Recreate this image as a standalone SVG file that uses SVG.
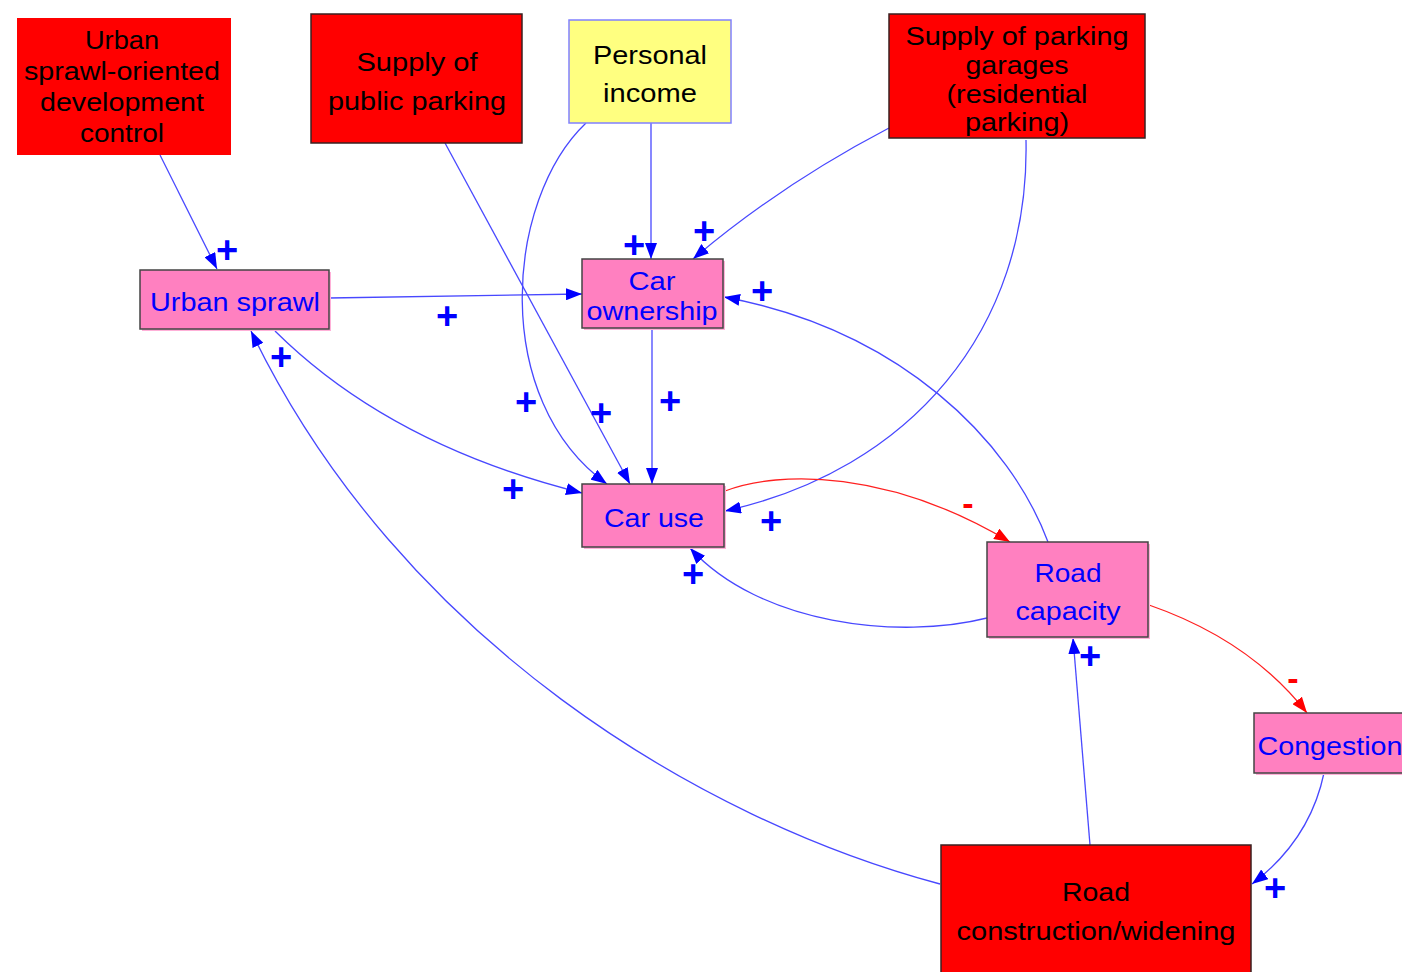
<svg xmlns="http://www.w3.org/2000/svg" width="1402" height="972" viewBox="0 0 1402 972">
  <style>
    .lbl { font-family: "Liberation Sans", Arial, sans-serif; font-size: 26px; text-anchor: middle; }
    .dark { fill: #000000; }
    .blue { fill: #0000ff; }
    .policy { fill: #ff0000; stroke: #3a2020; stroke-width: 1.5; }
    .policy-nb { fill: #ff0000; }
    .var { fill: #ff80c0; stroke: #444444; stroke-width: 1.5; }
    .shadow { fill: #ffb0d8; }
    .exo { fill: #ffff80; stroke: #8080ff; stroke-width: 1.5; }
    .link { fill: none; stroke: #4848ff; stroke-width: 1.3; marker-end: url(#arrowBlue); }
    .neg { fill: none; stroke: #ff2020; stroke-width: 1.3; marker-end: url(#arrowRed); }
    .plus { font-family: "Liberation Sans", Arial, sans-serif; font-size: 38px; font-weight: bold; fill: #0000ff; text-anchor: middle; }
    .minus { font-family: "Liberation Sans", Arial, sans-serif; font-size: 34px; font-weight: bold; fill: #ff0000; text-anchor: middle; }
  </style>
  <defs>
    <marker id="arrowBlue" viewBox="0 0 16 12" refX="16" refY="6" markerWidth="16" markerHeight="12" markerUnits="userSpaceOnUse" orient="auto">
      <path d="M0,0 L16,6 L0,12 Z" fill="#0000ff"/>
    </marker>
    <marker id="arrowRed" viewBox="0 0 16 12" refX="16" refY="6" markerWidth="16" markerHeight="12" markerUnits="userSpaceOnUse" orient="auto">
      <path d="M0,0 L16,6 L0,12 Z" fill="#ff0000"/>
    </marker>
  </defs>
  <rect width="1402" height="972" fill="#ffffff"/>

  <!-- causal links -->
  <g id="connectors">
    <path class="link" d="M160,155 L217,269"/>
    <path class="link" d="M445,143 L630,484"/>
    <path class="link" d="M586,123 C505,200 490,400 607,484"/>
    <path class="link" d="M651,123 L651,259"/>
    <path class="link" d="M889,128 Q780,185 693,259"/>
    <path class="link" d="M1026,140 C1030,330 910,470 725,511"/>
    <path class="link" d="M329,298 L582,294"/>
    <path class="link" d="M275,331 Q390,445 582,493"/>
    <path class="link" d="M652,328 L652,484"/>
    <path class="neg" d="M725,491 C780,470 890,470 1010,542"/>
    <path class="link" d="M1048,542 C1010,440 900,330 724,297"/>
    <path class="link" d="M987,618 C900,640 760,625 690,548"/>
    <path class="neg" d="M1149,605 Q1250,640 1307,713"/>
    <path class="link" d="M1324,773 Q1310,840 1252,884"/>
    <path class="link" d="M1090,845 L1073,638"/>
    <path class="link" d="M940,884 C700,820 400,640 251,331"/>
  </g>

  <!-- polarity labels -->
  <g id="polarities">
    <text class="plus" x="227" y="263">+</text>
    <text class="plus" x="447" y="329">+</text>
    <text class="plus" x="281" y="370">+</text>
    <text class="plus" x="526" y="415">+</text>
    <text class="plus" x="601" y="426">+</text>
    <text class="plus" x="513" y="502">+</text>
    <text class="plus" x="634" y="258">+</text>
    <text class="plus" x="704" y="244">+</text>
    <text class="plus" x="670" y="414">+</text>
    <text class="plus" x="762" y="304">+</text>
    <text class="plus" x="771" y="534">+</text>
    <text class="plus" x="693" y="587">+</text>
    <text class="plus" x="1090" y="669">+</text>
    <text class="plus" x="1275" y="901">+</text>
    <text class="minus" x="968" y="515">-</text>
    <text class="minus" x="1293" y="690">-</text>
  </g>

  <!-- nodes -->
  <g id="node-sprawl-control">
    <rect class="policy-nb" x="17" y="18" width="214" height="137"/>
    <text class="lbl dark" x="122" y="49" textLength="74" lengthAdjust="spacingAndGlyphs">Urban</text>
    <text class="lbl dark" x="122" y="80" textLength="196" lengthAdjust="spacingAndGlyphs">sprawl-oriented</text>
    <text class="lbl dark" x="122" y="111" textLength="164" lengthAdjust="spacingAndGlyphs">development</text>
    <text class="lbl dark" x="122" y="142" textLength="84" lengthAdjust="spacingAndGlyphs">control</text>
  </g>
  <g id="node-public-parking">
    <rect class="policy" x="311" y="14" width="211" height="129"/>
    <text class="lbl dark" x="417" y="71" textLength="121" lengthAdjust="spacingAndGlyphs">Supply of</text>
    <text class="lbl dark" x="417" y="110" textLength="178" lengthAdjust="spacingAndGlyphs">public parking</text>
  </g>
  <g id="node-income">
    <rect class="exo" x="569" y="20" width="162" height="103"/>
    <text class="lbl dark" x="650" y="64" textLength="114" lengthAdjust="spacingAndGlyphs">Personal</text>
    <text class="lbl dark" x="650" y="102" textLength="94" lengthAdjust="spacingAndGlyphs">income</text>
  </g>
  <g id="node-garages">
    <rect class="policy" x="889" y="14" width="256" height="124"/>
    <text class="lbl dark" x="1017" y="45" textLength="223" lengthAdjust="spacingAndGlyphs">Supply of parking</text>
    <text class="lbl dark" x="1017" y="74" textLength="103" lengthAdjust="spacingAndGlyphs">garages</text>
    <text class="lbl dark" x="1017" y="103" textLength="141" lengthAdjust="spacingAndGlyphs">(residential</text>
    <text class="lbl dark" x="1017" y="131" textLength="104" lengthAdjust="spacingAndGlyphs">parking)</text>
  </g>
  <g id="node-urban-sprawl">
    <rect class="shadow" x="142" y="272" width="189" height="59"/>
    <rect class="var" x="140" y="270" width="189" height="59"/>
    <text class="lbl blue" x="235" y="311" textLength="170" lengthAdjust="spacingAndGlyphs">Urban sprawl</text>
  </g>
  <g id="node-car-ownership">
    <rect class="shadow" x="584" y="261" width="141" height="69"/>
    <rect class="var" x="582" y="259" width="141" height="69"/>
    <text class="lbl blue" x="652" y="290" textLength="47" lengthAdjust="spacingAndGlyphs">Car</text>
    <text class="lbl blue" x="652" y="320" textLength="131" lengthAdjust="spacingAndGlyphs">ownership</text>
  </g>
  <g id="node-car-use">
    <rect class="shadow" x="584" y="486" width="142" height="63"/>
    <rect class="var" x="582" y="484" width="142" height="63"/>
    <text class="lbl blue" x="654" y="527" textLength="100" lengthAdjust="spacingAndGlyphs">Car use</text>
  </g>
  <g id="node-road-capacity">
    <rect class="shadow" x="989" y="544" width="161" height="95"/>
    <rect class="var" x="987" y="542" width="161" height="95"/>
    <text class="lbl blue" x="1068" y="582" textLength="67" lengthAdjust="spacingAndGlyphs">Road</text>
    <text class="lbl blue" x="1068" y="620" textLength="105" lengthAdjust="spacingAndGlyphs">capacity</text>
  </g>
  <g id="node-congestion">
    <rect class="shadow" x="1256" y="715" width="160" height="60"/>
    <rect class="var" x="1254" y="713" width="160" height="60"/>
    <text class="lbl blue" x="1330" y="755" textLength="145" lengthAdjust="spacingAndGlyphs">Congestion</text>
  </g>
  <g id="node-road-construction">
    <rect class="policy" x="941" y="845" width="310" height="140"/>
    <text class="lbl dark" x="1096" y="901" textLength="68" lengthAdjust="spacingAndGlyphs">Road</text>
    <text class="lbl dark" x="1096" y="940" textLength="279" lengthAdjust="spacingAndGlyphs">construction/widening</text>
  </g>
</svg>
